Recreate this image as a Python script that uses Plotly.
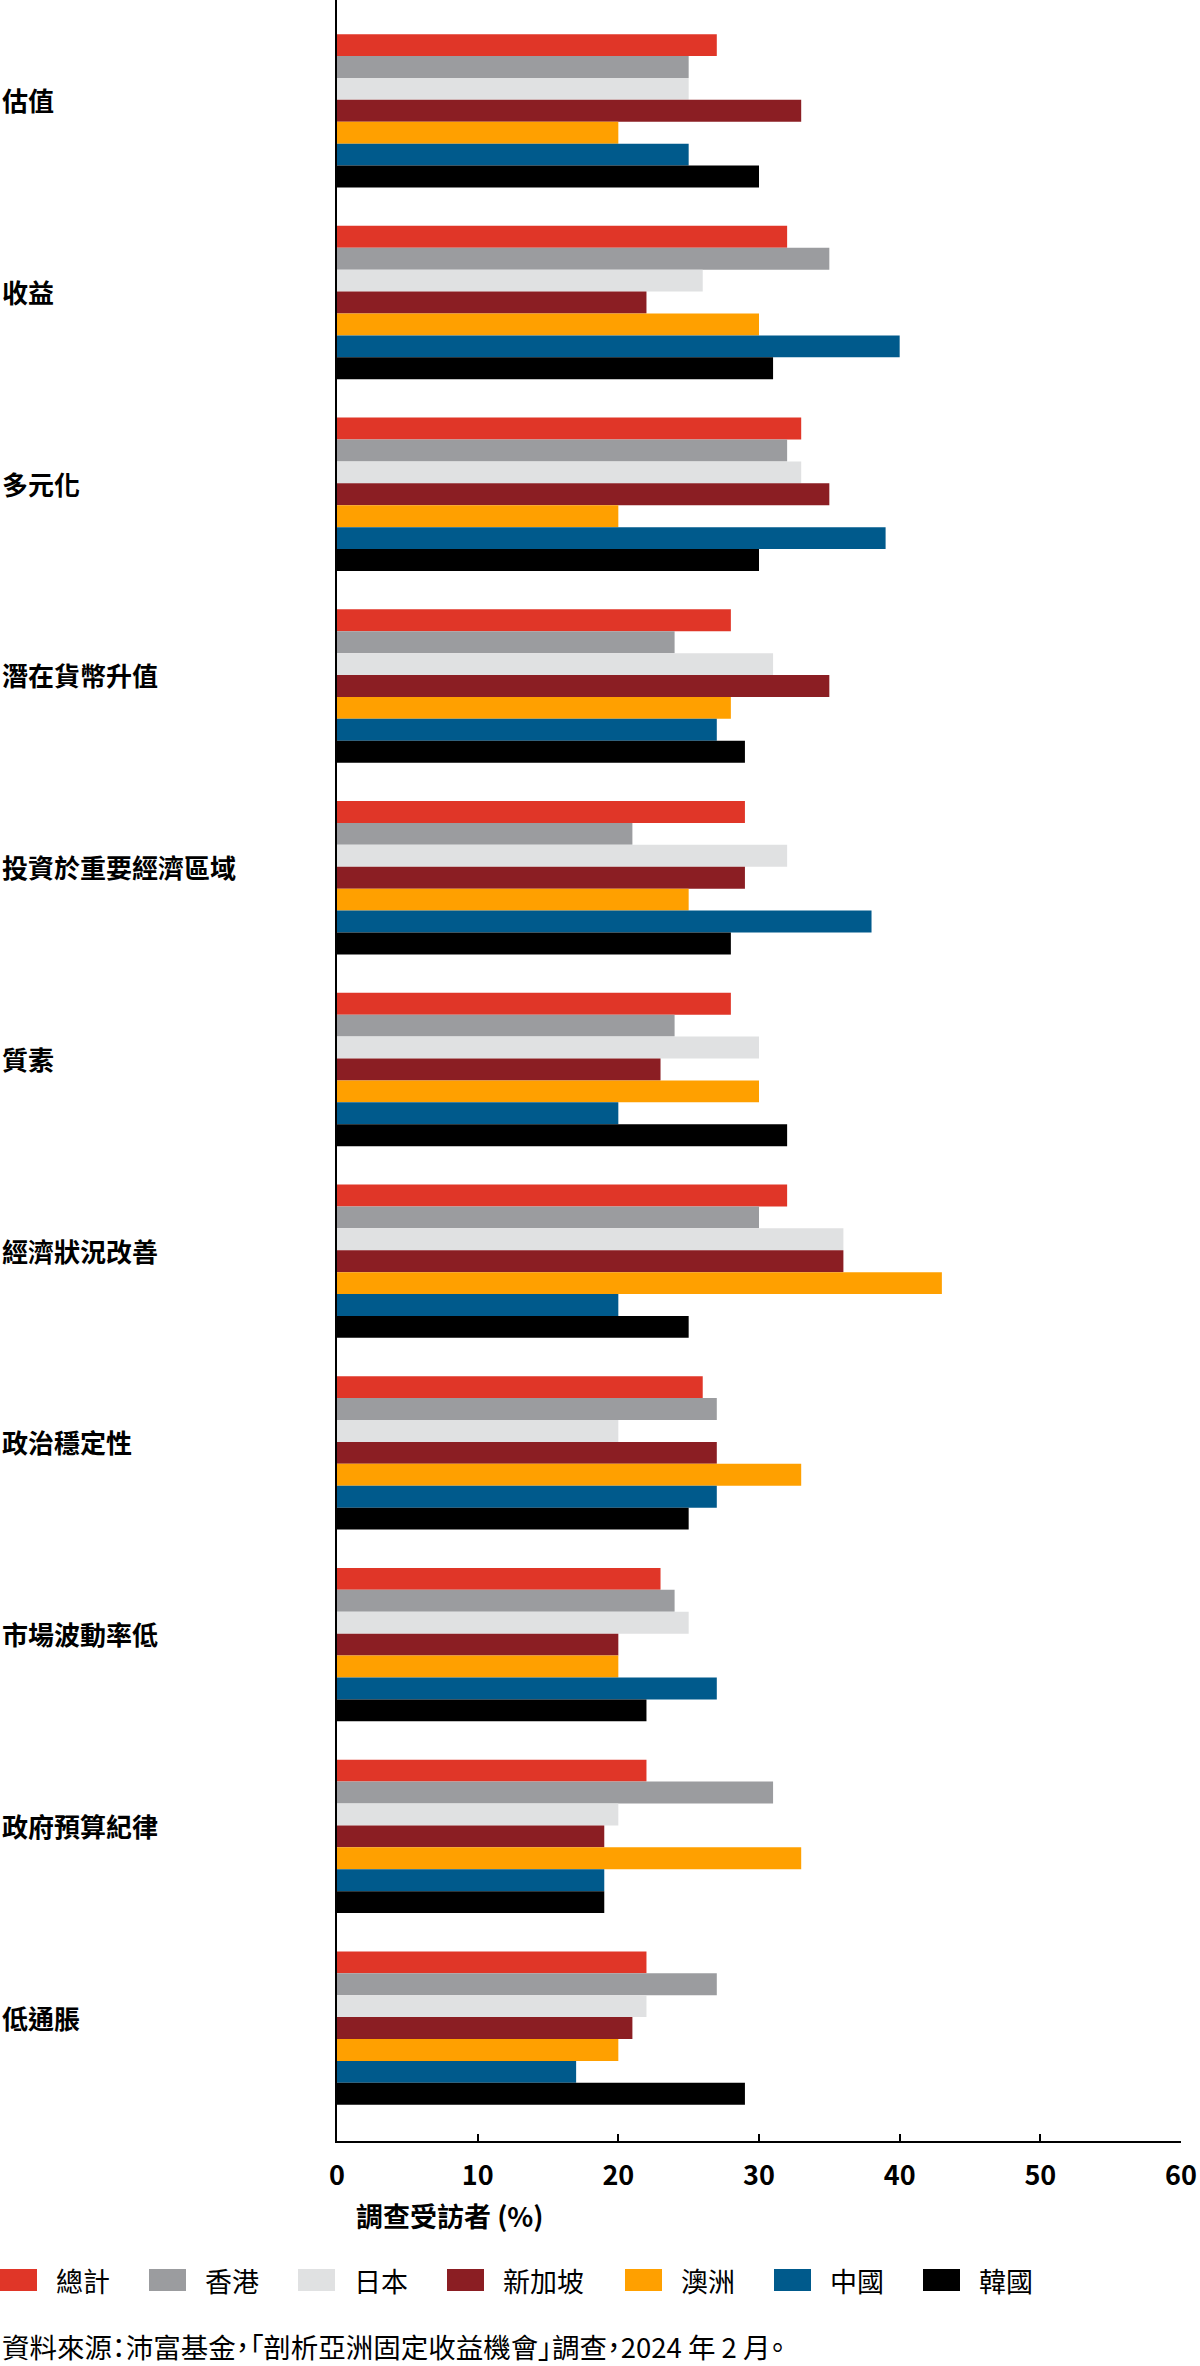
import plotly.graph_objects as go

# ---------------- data ----------------
categories = ["估值", "收益", "多元化", "潛在貨幣升值", "投資於重要經濟區域", "質素",
              "經濟狀況改善", "政治穩定性", "市場波動率低", "政府預算紀律", "低通脹"]
series_names = ["總計", "香港", "日本", "新加坡", "澳洲", "中國", "韓國"]
total = [27, 32, 33, 28, 29, 28, 32, 26, 23, 22, 22]
hong_kong = [25, 35, 32, 24, 21, 24, 30, 27, 24, 31, 27]
japan = [25, 26, 33, 31, 32, 30, 36, 20, 25, 20, 22]
singapore = [33, 22, 35, 35, 29, 23, 36, 27, 20, 19, 21]
australia = [20, 30, 20, 28, 25, 30, 43, 33, 20, 33, 20]
china = [25, 40, 39, 27, 38, 20, 20, 27, 27, 19, 17]
korea = [30, 31, 30, 29, 28, 32, 25, 25, 22, 19, 29]
x_ticks = [0, 10, 20, 30, 40, 50, 60]
x_title = "調查受訪者 (%)"
source_text = "資料來源：沛富基金，「剖析亞洲固定收益機會」調查，2024 年 2 月。"

series_values = [total, hong_kong, japan, singapore, australia, china, korea]

# ---------------- style ----------------
colors = ["#E03628", "#9B9C9F", "#E0E1E2", "#8B1E23", "#FFA000", "#005A8C", "#000000"]
FONT = "Noto Sans CJK TC, Noto Sans, sans-serif"
W, H = 1200, 2366
ML, MR, MT, MB = 337, 19, 0, 225
PW = W - ML - MR
PH = H - MT - MB


def px_to_paper_x(px):
    return (px - ML) / PW


def py_to_paper_y(py):
    return (MT + PH - py) / PH


fig = go.Figure()
for name, vals, color in zip(series_names, series_values, colors):
    fig.add_trace(go.Bar(
        y=categories, x=vals, name=name, orientation="h",
        marker=dict(color=color, line=dict(width=0)),
        showlegend=False,
        hovertemplate="%{y}<br>" + name + ": %{x}%<extra></extra>",
    ))

annotations = []
# category labels, left aligned at the page edge
for cat in categories:
    annotations.append(dict(
        x=px_to_paper_x(0), xref="paper", xanchor="left",
        y=cat, yref="y", yanchor="middle", yshift=11,
        text=cat, showarrow=False,
        font=dict(family=FONT, size=26, color="#000000", weight="bold"),
    ))

# x axis title
annotations.append(dict(
    x=px_to_paper_x(354), xref="paper", xanchor="left",
    y=py_to_paper_y(2215), yref="paper", yanchor="middle",
    text=x_title, showarrow=False,
    font=dict(family=FONT, size=27, color="#000000", weight="bold"),
))

# custom legend
shapes = []
pos = 0
for name, color in zip(series_names, colors):
    shapes.append(dict(
        type="rect", xref="paper", yref="paper",
        x0=px_to_paper_x(pos), x1=px_to_paper_x(pos + 37),
        y0=py_to_paper_y(2291), y1=py_to_paper_y(2269),
        fillcolor=color, line=dict(width=0),
    ))
    annotations.append(dict(
        x=px_to_paper_x(pos + 54), xref="paper", xanchor="left",
        y=py_to_paper_y(2280), yref="paper", yanchor="middle",
        text=name, showarrow=False,
        font=dict(family=FONT, size=27, color="#000000"),
    ))
    pos += 37 + 17 + 27 * len(name) + 41 + (2 if len(name) > 2 else 0)

# source
annotations.append(dict(
    x=px_to_paper_x(0), xref="paper", xanchor="left",
    y=py_to_paper_y(2346), yref="paper", yanchor="middle",
    text="<span style=\"font-feature-settings:'palt'\">" + source_text + "</span>",
    showarrow=False,
    font=dict(family=FONT, size=27.5, color="#000000"),
))

fig.update_layout(
    width=W, height=H, autosize=False,
    margin=dict(l=ML, r=MR, t=MT, b=MB, pad=0),
    paper_bgcolor="#FFFFFF", plot_bgcolor="#FFFFFF",
    barmode="group", bargap=0.2, bargroupgap=0,
    showlegend=False,
    font=dict(family=FONT, color="#000000"),
    xaxis=dict(
        range=[0, 60], tickvals=x_ticks, ticktext=[str(t) for t in x_ticks],
        ticks="inside", ticklen=7, tickwidth=1.5, tickcolor="#000000",
        showline=True, linewidth=2, linecolor="#000000",
        showgrid=False, zeroline=False,
        tickfont=dict(family=FONT, size=27, color="#000000", weight="bold"),
        ticklabelstandoff=10,
    ),
    yaxis=dict(
        type="category",
        range=[10.589, -0.578],
        showticklabels=False, ticks="",
        showline=True, linewidth=2, linecolor="#000000",
        showgrid=False, zeroline=False,
    ),
    annotations=annotations,
    shapes=shapes,
)

fig.write_html("out.html")
